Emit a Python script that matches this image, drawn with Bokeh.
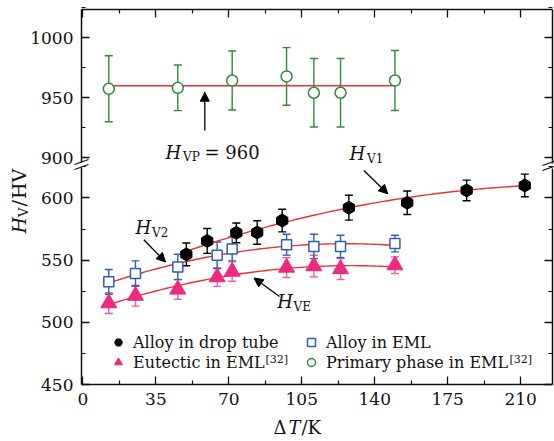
import numpy as np
from bokeh.plotting import figure
from bokeh.models import (Range1d, LinearAxis, FixedTicker, ColumnDataSource, Whisker,
                          TeeHead, Label, Arrow, NormalHead, Legend, LegendItem)
from bokeh.embed import file_html
from bokeh.resources import INLINE

# ---------------- data ----------------
dT_primary = [12.4, 45.5, 71.6, 97.7, 110.8, 123.6, 149.7]
Hv_primary = [957.5, 958.3, 964.4, 967.8, 954.2, 954.2, 964.4]
err_primary = [27.5, 19.0, 24.6, 24.0, 28.5, 28.5, 25.0]

dT_eml = [12.4, 25.2, 45.5, 64.4, 71.6, 97.7, 110.8, 123.6, 149.7]
Hv_alloy_eml = [532.5, 539.2, 544.5, 553.9, 559.0, 562.4, 561.0, 561.0, 563.3]
err_alloy_eml = [9.9, 10.2, 10.2, 10.7, 9.6, 8.4, 9.8, 9.0, 6.7]
Hv_eutectic = [515.4, 521.4, 526.4, 536.3, 540.8, 544.0, 545.2, 542.8, 545.9]
err_eutectic = [8.3, 8.4, 8.0, 7.4, 7.8, 8.0, 8.7, 8.4, 6.7]

dT_drop = [49.6, 59.6, 73.6, 83.6, 95.6, 127.6, 155.6, 184.1, 212.0]
Hv_drop = [554.6, 565.4, 571.9, 572.2, 581.8, 592.1, 596.1, 606.0, 610.0]
err_drop = [9.2, 10.0, 7.9, 9.4, 9.1, 10.0, 9.5, 8.3, 9.1]

HVP = 960

# fitted curves, points
fit_V1_dT = [51.6, 90.0, 100.4, 126.8, 154.0, 186.0, 212.4]
fit_V1_Hv = [558.0, 576.7, 583.4, 592.3, 598.7, 606.2, 610.2]
fit_V2_dT = [15.6, 51.7, 80.4, 90.0, 149.5]
fit_V2_Hv = [533.0, 550.5, 558.0, 559.3, 562.0]
fit_VE_dT = [14.8, 51.7, 80.4, 149.5]
fit_VE_Hv = [515.6, 531.2, 540.5, 544.5]

x_ticks = [0, 35, 70, 105, 140, 175, 210]
y_ticks_lower = [450, 500, 550, 600]
y_ticks_upper = [900, 950, 1000]

# ---------------- geometry (canvas pixels of the plot box) ----------------
W, H = 554, 441
PL, PR, PT, PB = 81, 552, 9, 384          # plot box edges
X_LO, X_HI = -0.7, 225.3                  # x values at the box's left/right edges
KX = (X_HI - X_LO) / (PR - PL)            # x units per px
KY = 1 / 1.244                            # lower-segment units per px
KU = 1 / 1.2                              # upper-segment units per px
Y900_PX = 157.3                           # pixel row of 900 in the upper segment
BREAK_UP_PX, BREAK_LO_PX = 161.5, 166.5   # axis gap

FONT = "DejaVu Serif"
TXT = "#111111"
GREEN = "#2f8a3e"
BLUE = "#2c5fb5"
PINK = "#ec2a7e"
PINK_ERR = "#ee5da0"
RED = "#ee3030"


def sx(px):
    return X_LO + (px - PL) * KX


def sy(py):
    return 450 + (PB - py) * KY


def su(py):
    return 900 + (Y900_PX - py) * KU


# the frame covers the whole canvas; axes sit at fixed locations
p = figure(width=W, height=H, x_range=Range1d(sx(0), sx(W)), y_range=Range1d(sy(H), sy(0)),
           output_backend="svg", toolbar_location=None,
           x_axis_location=None, y_axis_location=None,
           min_border_left=0, min_border_right=0, min_border_top=0, min_border_bottom=0)
p.extra_y_ranges = {"upper": Range1d(su(H), su(0))}
p.grid.visible = False
p.outline_line_color = None
p.background_fill_color = "white"
p.border_fill_color = "white"

x_ticker = FixedTicker(ticks=x_ticks, minor_ticks=[t + 17.5 for t in x_ticks])
yl_ticker = FixedTicker(ticks=y_ticks_lower, minor_ticks=[v + 25 for v in y_ticks_lower])
yu_ticker = FixedTicker(ticks=y_ticks_upper, minor_ticks=[v + 25 for v in y_ticks_upper])


def make_axis(side, ticker, loc, bounds, labels, rng="default"):
    ax = LinearAxis(ticker=ticker, fixed_location=loc, bounds=bounds, y_range_name=rng)
    ax.axis_line_width = 1.5
    ax.axis_line_color = TXT
    ax.major_tick_in = 8
    ax.major_tick_out = 0
    ax.minor_tick_in = 4
    ax.minor_tick_out = 0
    ax.major_tick_line_width = 1.3
    ax.minor_tick_line_width = 1.2
    ax.major_tick_line_color = TXT
    ax.minor_tick_line_color = TXT
    ax.major_label_text_font = FONT
    ax.major_label_text_font_size = "17px"
    ax.major_label_standoff = 8
    ax.major_label_text_color = TXT if labels else None
    p.add_layout(ax, side)
    return ax


make_axis("below", x_ticker, sy(PB), (X_LO, X_HI), True)
make_axis("above", x_ticker, sy(PT), (X_LO, X_HI), False)
make_axis("left", yl_ticker, X_LO, (450, sy(BREAK_LO_PX)), True)
make_axis("left", yu_ticker, X_LO, (su(BREAK_UP_PX), su(PT)), True, "upper")
make_axis("right", yl_ticker, X_HI, (450, sy(BREAK_LO_PX + 1)), False)
make_axis("right", yu_ticker, X_HI, (su(BREAK_UP_PX + 1), su(PT)), False, "upper")


# ---------------- error bars ----------------
def errbars(xs, ys, es, color, range_name="default"):
    src = ColumnDataSource(dict(x=xs, lo=[y - e for y, e in zip(ys, es)],
                                hi=[y + e for y, e in zip(ys, es)]))
    w = Whisker(source=src, base="x", lower="lo", upper="hi", dimension="height",
                line_color=color, line_width=1.4, level="underlay", y_range_name=range_name,
                upper_head=TeeHead(size=8, line_color=color, line_width=1.4),
                lower_head=TeeHead(size=8, line_color=color, line_width=1.4))
    p.add_layout(w)


errbars(dT_primary, Hv_primary, err_primary, GREEN, "upper")
errbars(dT_eml, Hv_eutectic, err_eutectic, PINK_ERR)
errbars(dT_eml, Hv_alloy_eml, err_alloy_eml, BLUE)
errbars(dT_drop, Hv_drop, err_drop, "black")


# ---------------- fitted lines ----------------
def fit_curve(xs, ys, x0, x1):
    c = np.polyfit(xs, ys, 2)
    xx = np.linspace(x0, x1, 80)
    return xx, np.polyval(c, xx)


xx, yy = fit_curve(fit_V1_dT, fit_V1_Hv, min(dT_drop), max(dT_drop))
p.line(xx, yy, line_color=RED, line_width=1.4)
xx, yy = fit_curve(fit_V2_dT, fit_V2_Hv, min(dT_eml), max(dT_eml))
p.line(xx, yy, line_color=RED, line_width=1.4)
xx, yy = fit_curve(fit_VE_dT, fit_VE_Hv, min(dT_eml), max(dT_eml))
p.line(xx, yy, line_color=RED, line_width=1.4)
p.line([min(dT_primary), max(dT_primary)], [HVP, HVP], line_color=RED, line_width=1.4,
       y_range_name="upper")

# ---------------- markers ----------------
r_pp = p.scatter(dT_primary, Hv_primary, marker="circle", size=11, fill_color="white",
                 line_color=GREEN, line_width=1.5, y_range_name="upper")
r_eut = p.scatter(dT_eml, Hv_eutectic, marker="triangle", size=16, fill_color=PINK,
                  line_color=PINK, line_width=1)
r_eml = p.scatter(dT_eml, Hv_alloy_eml, marker="square", size=10, fill_color="white",
                  line_color=BLUE, line_width=1.5)
r_dt = p.scatter(dT_drop, Hv_drop, marker="hex", size=13, angle=np.pi / 2,
                 fill_color="black", line_color="black", line_width=1)


# ---------------- texts (y given as the visual middle of the text) ----------------
def text(px, py, s, size="18px", style="normal", angle=0.0):
    p.add_layout(Label(x=sx(px), y=sy(py), text=s, text_font=FONT, text_font_size=size,
                       text_font_style=style, angle=angle, text_align="left",
                       text_baseline="middle", text_color=TXT))


def arrow(x0, y0, x1, y1):
    p.add_layout(Arrow(x_start=sx(x0), y_start=sy(y0), x_end=sx(x1), y_end=sy(y1),
                       line_color="black", line_width=1.3,
                       end=NormalHead(size=9, fill_color="black", line_color="black",
                                      line_width=1)))


def seg(x0, y0, x1, y1):
    p.add_layout(Arrow(x_start=sx(x0), y_start=sy(y0), x_end=sx(x1), y_end=sy(y1),
                       line_color=TXT, line_width=1.3, end=None))


SUB = "12px"
# H_VP = 960
text(165, 151.7, "H", style="italic")
text(182.5, 156.2, "VP", size=SUB)
text(204, 151.7, "= 960")
arrow(204.3, 130, 204.3, 91.7)
# H_V1
text(349, 153.3, "H", style="italic")
text(366.5, 158.8, "V1", size=SUB)
arrow(363.3, 170, 387.3, 193.3)
# H_V2
text(135, 226.7, "H", style="italic")
text(151.5, 232, "V2", size=SUB)
arrow(143.3, 239.3, 165, 261.5)
# H_VE
text(276.7, 301.2, "H", style="italic")
text(293, 306, "VE", size=SUB)
arrow(279, 296, 253.5, 277.5)

# axis titles
text(273, 427, "\u0394")
text(288, 427, "T", style="italic")
text(301, 427, "/K")
A = np.pi / 2
text(18, 233, "H", style="italic", size="19px", angle=A)
text(22.5, 216.5, "V", size="13px", angle=A)
text(18, 206, "/", size="19px", angle=A)
text(18, 198.5, "HV", size="19px", angle=A)

# superscripts of legend labels
text(265, 358.5, "[32]", size="11px")
text(509, 358.5, "[32]", size="11px")

# ---------------- axis breaks ----------------
seg(74, 169, 88, 164)
seg(74, 164, 88, 159)
seg(542, 170, 556, 165)
seg(542, 165, 556, 160)

# ---------------- legend ----------------
legend = Legend(items=[LegendItem(label="Alloy in drop tube", renderers=[r_dt]),
                       LegendItem(label="Eutectic in EML", renderers=[r_eut]),
                       LegendItem(label="Alloy in EML", renderers=[r_eml]),
                       LegendItem(label="Primary phase in EML", renderers=[r_pp])],
                location=(108, H - 372), orientation="vertical", nrows=2,
                glyph_width=20, glyph_height=20, label_height=20, label_width=168,
                label_standoff=5, spacing=0, padding=0, margin=0,
                border_line_color=None, background_fill_alpha=0,
                label_text_font=FONT, label_text_font_size="16px", label_text_color=TXT)
p.add_layout(legend)

open("out.html", "w").write(file_html(p, INLINE))
